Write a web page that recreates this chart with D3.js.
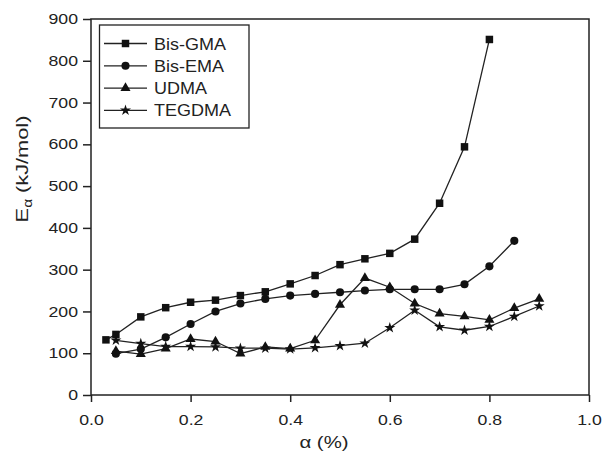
<!DOCTYPE html>
<html><head><meta charset="utf-8">
<script src="https://cdn.jsdelivr.net/npm/d3@7"></script>
<style>body{margin:0;background:#fff}svg{display:block}text{font-family:"Liberation Sans",Arial,sans-serif;fill:#222}</style>
</head><body>
<svg id="c" width="603" height="456"></svg>
<script>
const seriesNames = ["Bis-GMA","Bis-EMA","UDMA","TEGDMA"];
const xBisGMA = [0.03,0.05,0.1,0.15,0.2,0.25,0.3,0.35,0.4,0.45,0.5,0.55,0.6,0.65,0.7,0.75,0.8];
const yBisGMA = [132,145,187,209,222,227,238,247,266,286,312,326,339,373,459,594,851];
const xBisEMA = [0.05,0.1,0.15,0.2,0.25,0.3,0.35,0.4,0.45,0.5,0.55,0.6,0.65,0.7,0.75,0.8,0.85];
const yBisEMA = [99,110,138,170,200,219,230,238,242,246,250,253,253,253,265,308,369];
const xUDMA = [0.05,0.1,0.15,0.2,0.25,0.3,0.35,0.4,0.45,0.5,0.55,0.6,0.65,0.7,0.75,0.8,0.85,0.9];
const yUDMA = [105,98,111,134,128,99,115,111,131,216,280,258,219,195,188,180,208,230];
const xTEGDMA = [0.05,0.1,0.15,0.2,0.25,0.3,0.35,0.4,0.45,0.5,0.55,0.6,0.65,0.7,0.75,0.8,0.85,0.9];
const yTEGDMA = [131,123,116,116,115,112,112,110,113,118,124,161,203,163,155,164,188,213];
const xTicks = [0,0.2,0.4,0.6,0.8,1.0];
const yTicks = [0,100,200,300,400,500,600,700,800,900];

const svg = d3.select("#c");
const L=91,R=589,T=19,B=395;
const x = d3.scaleLinear().domain([0,1]).range([L,R]);
const y = d3.scaleLinear().domain([0,900]).range([B,T]);
const ink="#222";
const FF='"Liberation Sans",Arial,sans-serif';

function stretch(sel, s){
  sel.each(function(){
    const t=d3.select(this);
    const xv=+(t.attr("x")||0);
    t.attr("x",xv/s).attr("transform",`scale(${s},1)`);
  });
}

// frame
svg.append("rect").attr("x",L).attr("y",T).attr("width",R-L).attr("height",B-T)
  .attr("fill","none").attr("stroke",ink).attr("stroke-width",1.5);

// x axis
const gx = svg.append("g").attr("transform",`translate(0,${B})`);
gx.call(d3.axisBottom(x).tickValues(d3.range(0,1.01,0.1)).tickSize(4).tickFormat(""))
  .call(g=>g.select(".domain").remove());
gx.call(d3.axisBottom(x).tickValues(xTicks).tickSize(7).tickPadding(13).tickFormat(d3.format(".1f")))
  .call(g=>g.selectAll(".domain").remove());
gx.selectAll("line").attr("stroke",ink).attr("stroke-width",1.5);
gx.selectAll("text").attr("font-size",14.5).attr("fill",ink).style("font-family",FF);
stretch(gx.selectAll("text"),1.22);

// y axis
const gy = svg.append("g").attr("transform",`translate(${L},0)`);
gy.call(d3.axisLeft(y).tickValues(d3.range(0,901,50)).tickSize(4).tickFormat(""))
  .call(g=>g.select(".domain").remove());
gy.call(d3.axisLeft(y).tickValues(yTicks).tickSize(8).tickPadding(5).tickFormat(d3.format("d")))
  .call(g=>g.selectAll(".domain").remove());
gy.selectAll("line").attr("stroke",ink).attr("stroke-width",1.5);
gy.selectAll("text").attr("font-size",14.5).attr("fill",ink).style("font-family",FF);
stretch(gy.selectAll("text"),1.22);

// axis titles
const xt = svg.append("g").attr("transform","translate(324,448)");
xt.append("text").attr("text-anchor","middle").attr("font-size",17).attr("transform","scale(1.2,1)").text("α (%)");
const ytg = svg.append("g").attr("transform","translate(28,169) rotate(-90)");
const yt = ytg.append("text").attr("text-anchor","middle").attr("font-size",17).attr("transform","scale(1.28,1)");
yt.append("tspan").text("E");
yt.append("tspan").attr("font-size",12).attr("dy",4).text("α");
yt.append("tspan").attr("dy",-4).text(" (kJ/mol)");

const series = [
  {name:seriesNames[0], xs:xBisGMA, ys:yBisGMA, sym:d3.symbolSquare, size:56},
  {name:seriesNames[1], xs:xBisEMA, ys:yBisEMA, sym:d3.symbolCircle, size:52},
  {name:seriesNames[2], xs:xUDMA, ys:yUDMA, sym:d3.symbolTriangle, size:44},
  {name:seriesNames[3], xs:xTEGDMA, ys:yTEGDMA, sym:d3.symbolStar, size:38},
];
const line = d3.line().x(d=>x(d[0])).y(d=>y(d[1]));
series.forEach(s=>{
  const pts = s.xs.map((v,i)=>[v,s.ys[i]]);
  svg.append("path").attr("d",line(pts)).attr("fill","none").attr("stroke",ink).attr("stroke-width",1.3);
});
series.forEach(s=>{
  const pts = s.xs.map((v,i)=>[v,s.ys[i]]);
  svg.append("g").selectAll("path").data(pts).join("path")
    .attr("transform",d=>`translate(${x(d[0])},${y(d[1])})`)
    .attr("d",d3.symbol().type(s.sym).size(s.size)).attr("fill","#111");
});

// legend
const lg = svg.append("g");
lg.append("rect").attr("x",99.5).attr("y",25).attr("width",149.5).attr("height",103)
  .attr("fill","#fff").attr("stroke",ink).attr("stroke-width",1.3);
series.forEach((s,i)=>{
  const yy = 43.5 + i*22.3;
  lg.append("line").attr("x1",104).attr("x2",147).attr("y1",yy).attr("y2",yy).attr("stroke",ink).attr("stroke-width",1.3);
  lg.append("path").attr("transform",`translate(125.5,${yy})`).attr("d",d3.symbol().type(s.sym).size(s.size)).attr("fill","#111");
  const tg = lg.append("g").attr("transform",`translate(154,${yy+6})`);
  tg.append("text").attr("font-size",17).attr("transform","scale(1.06,1)").text(s.name);
});
</script>
</body></html>
